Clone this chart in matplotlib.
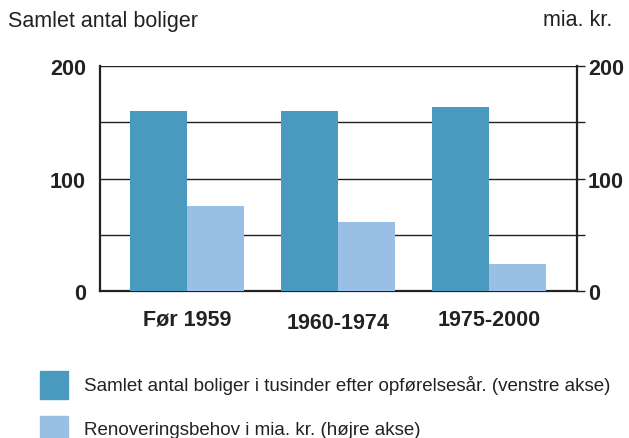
import matplotlib.pyplot as plt
import numpy as np

plt.rcParams['font.family'] = ['Liberation Sans', 'DejaVu Sans']

categories = ['Før 1959', '1960-1974', '1975-2000']
boliger = [160, 160, 164]          # tusinder, venstre akse
renovering = [76, 61, 24]          # mia. kr., højre akse
yticks = [0, 100, 200]

dark = '#4a9abf'
light = '#9abfe4'
linec = '#222222'

fig = plt.figure(figsize=(6.29, 4.39), dpi=100)
ax = fig.add_axes([0.159, 0.335, 0.758, 0.512])
ax2 = ax.twinx()

x = np.arange(len(categories))
w = 0.377
ax.bar(x - w / 2, boliger, width=w, color=dark, zorder=3)
ax2.bar(x + w / 2, renovering, width=w, color=light, zorder=3)

ax.set_xlim(-0.576, 2.583)
ax.set_ylim(0, 200)
ax2.set_ylim(0, 200)

# grid lines at every 50
for v in [50, 100, 150, 200]:
    ax.axhline(v, color=linec, lw=1.0, zorder=1)

ax.set_yticks(yticks)
ax.set_yticklabels([str(t) for t in yticks], fontsize=15.5, fontweight='bold', color=linec)
ax.tick_params(axis='y', length=0, pad=10)
ax2.set_yticks([0, 50, 100, 150, 200])
ax2.set_yticklabels(['0', '', '100', '', '200'], fontsize=15.5, fontweight='bold', color=linec)
ax2.tick_params(axis='y', length=6, width=1.0, color=linec, pad=2, direction='out')

ax.set_xticks(x)
ax.set_xticklabels(categories, fontsize=15.5, fontweight='bold', color=linec)
ax.tick_params(axis='x', length=0, pad=13)
for lbl in ax.get_xticklabels()[1:2]:
    lbl.set_y(-0.012)

for a in (ax, ax2):
    a.spines['top'].set_visible(False)
    for s in ['left', 'right', 'bottom']:
        a.spines[s].set_color(linec)
        a.spines[s].set_linewidth(1.6)
ax.spines['right'].set_visible(False)
ax2.spines['left'].set_visible(False)
ax2.spines['bottom'].set_visible(False)

fig.text(8 / 629, 1 - 21 / 439, 'Samlet antal boliger', fontsize=15.5, color=linec, va='center', ha='left')
fig.text(612 / 629, 1 - 21 / 439, 'mia. kr.', fontsize=15.5, color=linec, va='center', ha='right')

# legend
labels = ['Samlet antal boliger i tusinder efter opførelsesår. (venstre akse)',
          'Renoveringsbehov i mia. kr. (højre akse)']
for i, (lab, col) in enumerate(zip(labels, [dark, light])):
    yc = 386 + i * 45
    fig.patches.append(plt.Rectangle((40 / 629, 1 - (yc + 14) / 439), 28 / 629, 28 / 439,
                                     transform=fig.transFigure, color=col, figure=fig))
    fig.text(84 / 629, 1 - yc / 439, lab, fontsize=13.5, color=linec, va='center', ha='left')

plt.savefig('out.png', dpi=100)
